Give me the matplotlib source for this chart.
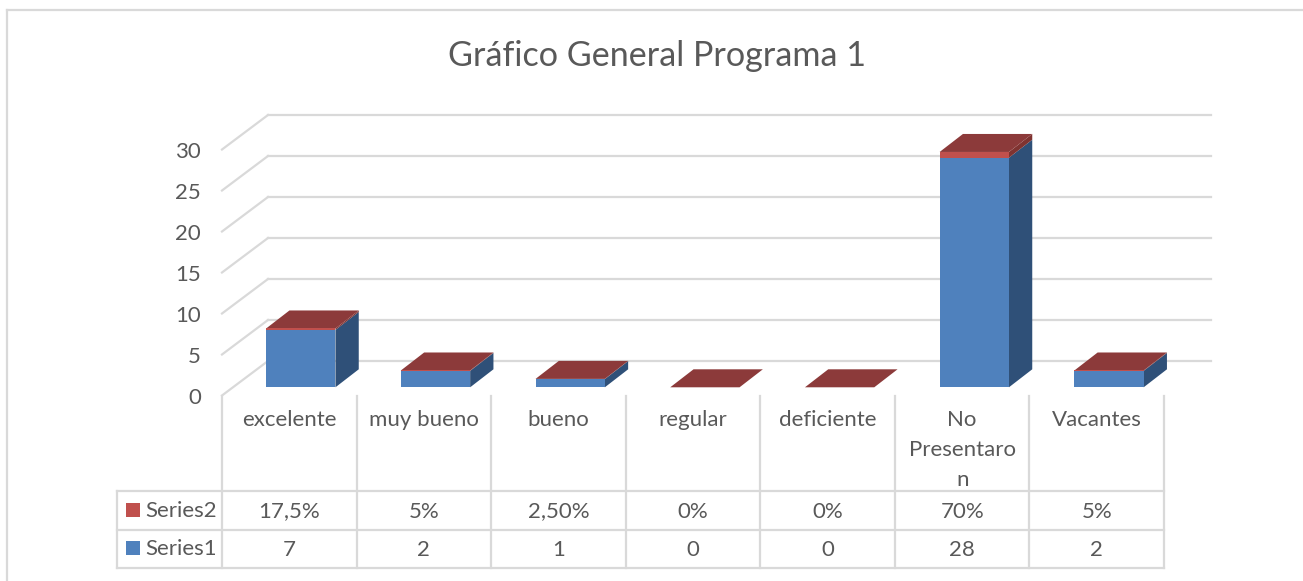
import matplotlib
matplotlib.use('Agg')
import matplotlib.pyplot as plt
from matplotlib.patches import Polygon, Rectangle

plt.rcParams['font.family'] = ['Lato', 'DejaVu Sans']

W, H = 1303, 581

categories = ['excelente', 'muy bueno', 'bueno', 'regular', 'deficiente',
              'No\nPresentaro\nn', 'Vacantes']
series1 = [7, 2, 1, 0, 0, 28, 2]
series2 = [0.175, 0.05, 0.025, 0, 0, 0.7, 0.05]
series1_labels = ['7', '2', '1', '0', '0', '28', '2']
series2_labels = ['17,5%', '5%', '2,50%', '0%', '0%', '70%', '5%']
yticks = [0, 5, 10, 15, 20, 25, 30]

GRID = '#D9D9D9'
TEXT = '#595959'
BLUE = '#4F81BD'
BLUE_SIDE = '#2F5078'
RED = '#C0504D'
RED_SIDE = '#7F3331'
RED_TOP = '#8C3A3A'

# scale of the chart in pixels
X0 = 300.8      # centre of first bar
XSTEP = 134.7
Y0 = 387.3      # base of the bars
YSTEP = 8.2


def px_x(p):
    return (p - X0) / XSTEP


def px_y(p):
    return (Y0 - p) / YSTEP


fig = plt.figure(figsize=(W / 100, H / 100), dpi=100)
ax = fig.add_axes([0, 0, 1, 1])
ax.set_xlim(px_x(0), px_x(W))
ax.set_ylim(px_y(H), px_y(0))
ax.axis('off')

lw = 1.6
fs = 16

# chart frame, open on the right and at the bottom
ax.plot([px_x(7), px_x(7)], [px_y(H), px_y(10)], color=GRID, lw=lw)
ax.plot([px_x(7), px_x(W)], [px_y(10), px_y(10)], color=GRID, lw=lw)

ax.text(px_x(657.5), px_y(56), 'Gráfico General Programa 1', ha='center', va='center',
        fontsize=24.6, color=TEXT)

# back wall grid and the diagonals down to the axis labels
wall_dy = px_y(361)
front_dy = px_y(395.5)
for t in yticks:
    ax.plot([px_x(268), px_x(1211)], [t + wall_dy, t + wall_dy], color=GRID, lw=lw, zorder=1)
    ax.plot([px_x(222), px_x(268)], [t + front_dy, t + wall_dy], color=GRID, lw=lw, zorder=1)
    ax.text(px_x(201), t + front_dy - 2.5 / YSTEP, str(t), ha='right', va='center', fontsize=fs, color=TEXT)

# bars
xs = list(range(len(categories)))
bw = 69.3 / XSTEP
dx = 23.3 / XSTEP
dy = 18 / YSTEP
ax.bar(xs, series1, width=bw, color=BLUE, zorder=3)
ax.bar(xs, series2, width=bw, bottom=series1, color=RED, zorder=3)
for x, a, b in zip(xs, series1, series2):
    l, r = x - bw / 2, x + bw / 2
    top = a + b
    ax.add_patch(Polygon([(r, 0), (r + dx, dy), (r + dx, a + dy), (r, a)], color=BLUE_SIDE, lw=0, zorder=2))
    ax.add_patch(Polygon([(r, a), (r + dx, a + dy), (r + dx, top + dy), (r, top)], color=RED_SIDE, lw=0, zorder=2))
    ax.add_patch(Polygon([(l, top), (l + dx, top + dy), (r + dx, top + dy), (r, top)], color=RED_TOP, lw=0, zorder=2))

# data table
col0 = px_x(222)
edges = [col0 + i * (px_x(1164) - col0) / len(categories) for i in range(len(categories) + 1)]
centers = [(edges[i] + edges[i + 1]) / 2 for i in range(len(categories))]
ytop, y1, y2, y3 = px_y(396), px_y(491), px_y(530), px_y(568)

for e in edges:
    ax.plot([e, e], [ytop, y3], color=GRID, lw=lw, zorder=1)
ax.plot([px_x(117), px_x(117)], [y1, y3], color=GRID, lw=lw, zorder=1)
for yy in (y1, y2, y3):
    ax.plot([px_x(117), edges[-1]], [yy, yy], color=GRID, lw=lw, zorder=1)

for c, name, s2, s1 in zip(centers, categories, series2_labels, series1_labels):
    lines = name.split('\n')
    for j, line in enumerate(lines):
        ax.text(c, px_y(420 + j * 30), line, ha='center', va='center', fontsize=fs, color=TEXT)
    ax.text(c, px_y(511.5), s2, ha='center', va='center', fontsize=fs, color=TEXT)
    ax.text(c, px_y(549.5), s1, ha='center', va='center', fontsize=fs, color=TEXT)

for name, color, yc in (('Series2', RED, 510), ('Series1', BLUE, 548)):
    ax.add_patch(Rectangle((px_x(126), px_y(yc + 7)), 14 / XSTEP, 14 / YSTEP, color=color, lw=0))
    ax.text(px_x(145), px_y(yc + 1), name, ha='left', va='center', fontsize=fs, color=TEXT)

fig.savefig('out.png', dpi=100)
